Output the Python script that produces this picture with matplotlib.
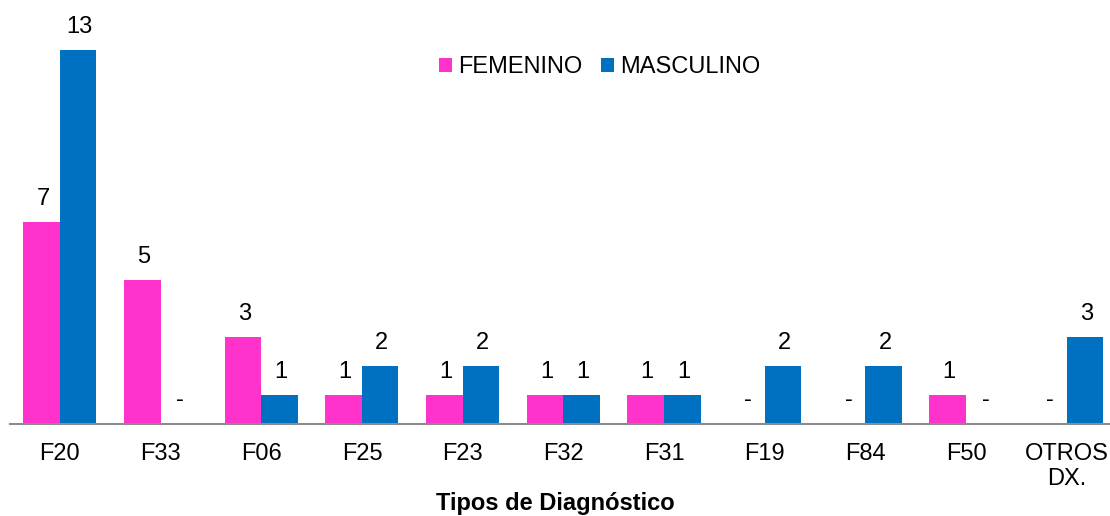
import numpy as np
import matplotlib.pyplot as plt

plt.rcParams['font.family'] = ['Liberation Sans', 'DejaVu Sans']

categorias = ['F20', 'F33', 'F06', 'F25', 'F23', 'F32', 'F31', 'F19', 'F84', 'F50', 'OTROS\nDX.']
femenino = [7, 5, 3, 1, 1, 1, 1, 0, 0, 1, 0]
masculino = [13, 0, 1, 2, 2, 1, 1, 2, 2, 0, 3]

rosa = '#FF33CC'
azul = '#0070C0'

W, H = 1110, 516
fig = plt.figure(figsize=(W / 100, H / 100), dpi=100)
# axes box in pixels: x from 9.6 to 1117 (clipped at right), baseline at y=423.5
ax = fig.add_axes([9.6 / W, (H - 423.5) / H, (1117 - 9.6) / W, (423.5 - 7) / H])

x = np.arange(len(categorias))
ancho = 0.363
b1 = ax.bar(x - ancho / 2, femenino, ancho, color=rosa, label='FEMENINO')
b2 = ax.bar(x + ancho / 2, masculino, ancho, color=azul, label='MASCULINO')

for barras, vals in ((b1, femenino), (b2, masculino)):
    for b, v in zip(barras, vals):
        txt = str(v) if v > 0 else '-'
        ax.annotate(txt, (b.get_x() + b.get_width() / 2, v), xytext=(1, 12.3),
                    textcoords='offset points', ha='center', va='baseline', fontsize=17)

ax.set_xlim(-0.5, 10.5)
ax.set_ylim(0, 14.5)
ax.set_xticks(x)
ax.set_xticklabels(categorias, fontsize=17, linespacing=1.2)
ax.tick_params(axis='x', length=0, pad=14)
ax.set_yticks([])
for s in ['top', 'right', 'left']:
    ax.spines[s].set_visible(False)
ax.spines['bottom'].set_color('#8c8c8c')
ax.spines['bottom'].set_linewidth(1.5)

ax.set_xlabel('Tipos de Diagnóstico', fontsize=17, fontweight='bold')
ax.xaxis.set_label_coords((555 - 9.6) / (1117 - 9.6), -(492 - 423.5) / (423.5 - 7))

fig.legend(loc='center', bbox_to_anchor=(600 / W, 1 - 67 / H), ncol=2, frameon=False,
           fontsize=17, handlelength=0.55, handleheight=0.55, handletextpad=0.25,
           columnspacing=0.8)

fig.savefig('out.png', dpi=100)
